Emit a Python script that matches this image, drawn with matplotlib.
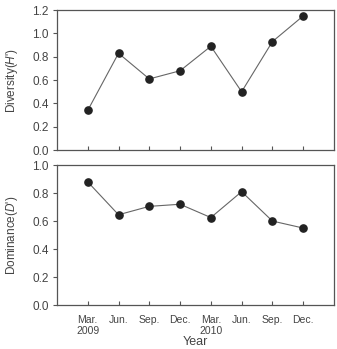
import matplotlib
matplotlib.use("Agg")
import matplotlib.pyplot as plt

plt.rcParams["font.family"] = ["Liberation Sans", "DejaVu Sans"]
plt.rcParams["mathtext.fontset"] = "custom"
plt.rcParams["mathtext.it"] = "Liberation Sans:italic"
plt.rcParams["mathtext.rm"] = "Liberation Sans"

months = ["Mar.\n2009", "Jun.", "Sep.", "Dec.", "Mar.\n2010", "Jun.", "Sep.", "Dec."]
diversity = [0.34, 0.83, 0.61, 0.68, 0.89, 0.50, 0.93, 1.15]
dominance = [0.88, 0.645, 0.705, 0.72, 0.625, 0.81, 0.60, 0.55]

GREY = "#555555"
TXT = "#444444"
FS = 8.5

fig = plt.figure(figsize=(3.37, 3.49), dpi=100)
ax1 = fig.add_axes([0.169, 0.570, 0.822, 0.401])
ax2 = fig.add_axes([0.169, 0.126, 0.822, 0.401])

xs = list(range(1, len(months) + 1))
for ax, vals, ymax, step, label in [
    (ax1, diversity, 1.2, 0.2, "Diversity($\\mathit{H}$')"),
    (ax2, dominance, 1.0, 0.2, "Dominance($\\mathit{D}$')"),
]:
    ax.plot(xs, vals, color="#666666", lw=0.8, marker="o", ms=5.2,
            mfc="#222222", mec="#222222", zorder=3)
    ax.set_xlim(0, 9)
    ax.set_ylim(0, ymax)
    n = int(round(ymax / step))
    ax.set_yticks([i * step for i in range(n + 1)])
    ax.set_yticklabels([f"{i * step:.1f}" for i in range(n + 1)])
    ax.set_xticks(xs)
    ax.tick_params(axis="x", direction="in", length=3, color=GREY,
                   labelsize=FS - 1, labelcolor=TXT, pad=7)
    ax.tick_params(axis="y", direction="out", length=3, color=GREY,
                   labelsize=FS, labelcolor=TXT, pad=3)
    for s in ax.spines.values():
        s.set_color(GREY)
        s.set_linewidth(0.9)
    ax.set_ylabel(label, fontsize=FS, color=TXT, labelpad=9)

ax1.set_xticklabels([])
ax2.set_xticklabels(months, ha="center", linespacing=1.2)
ax2.set_xlabel("Year", fontsize=FS + 0.5, color=TXT, labelpad=0)

fig.savefig("out.png", dpi=100, facecolor="white")
